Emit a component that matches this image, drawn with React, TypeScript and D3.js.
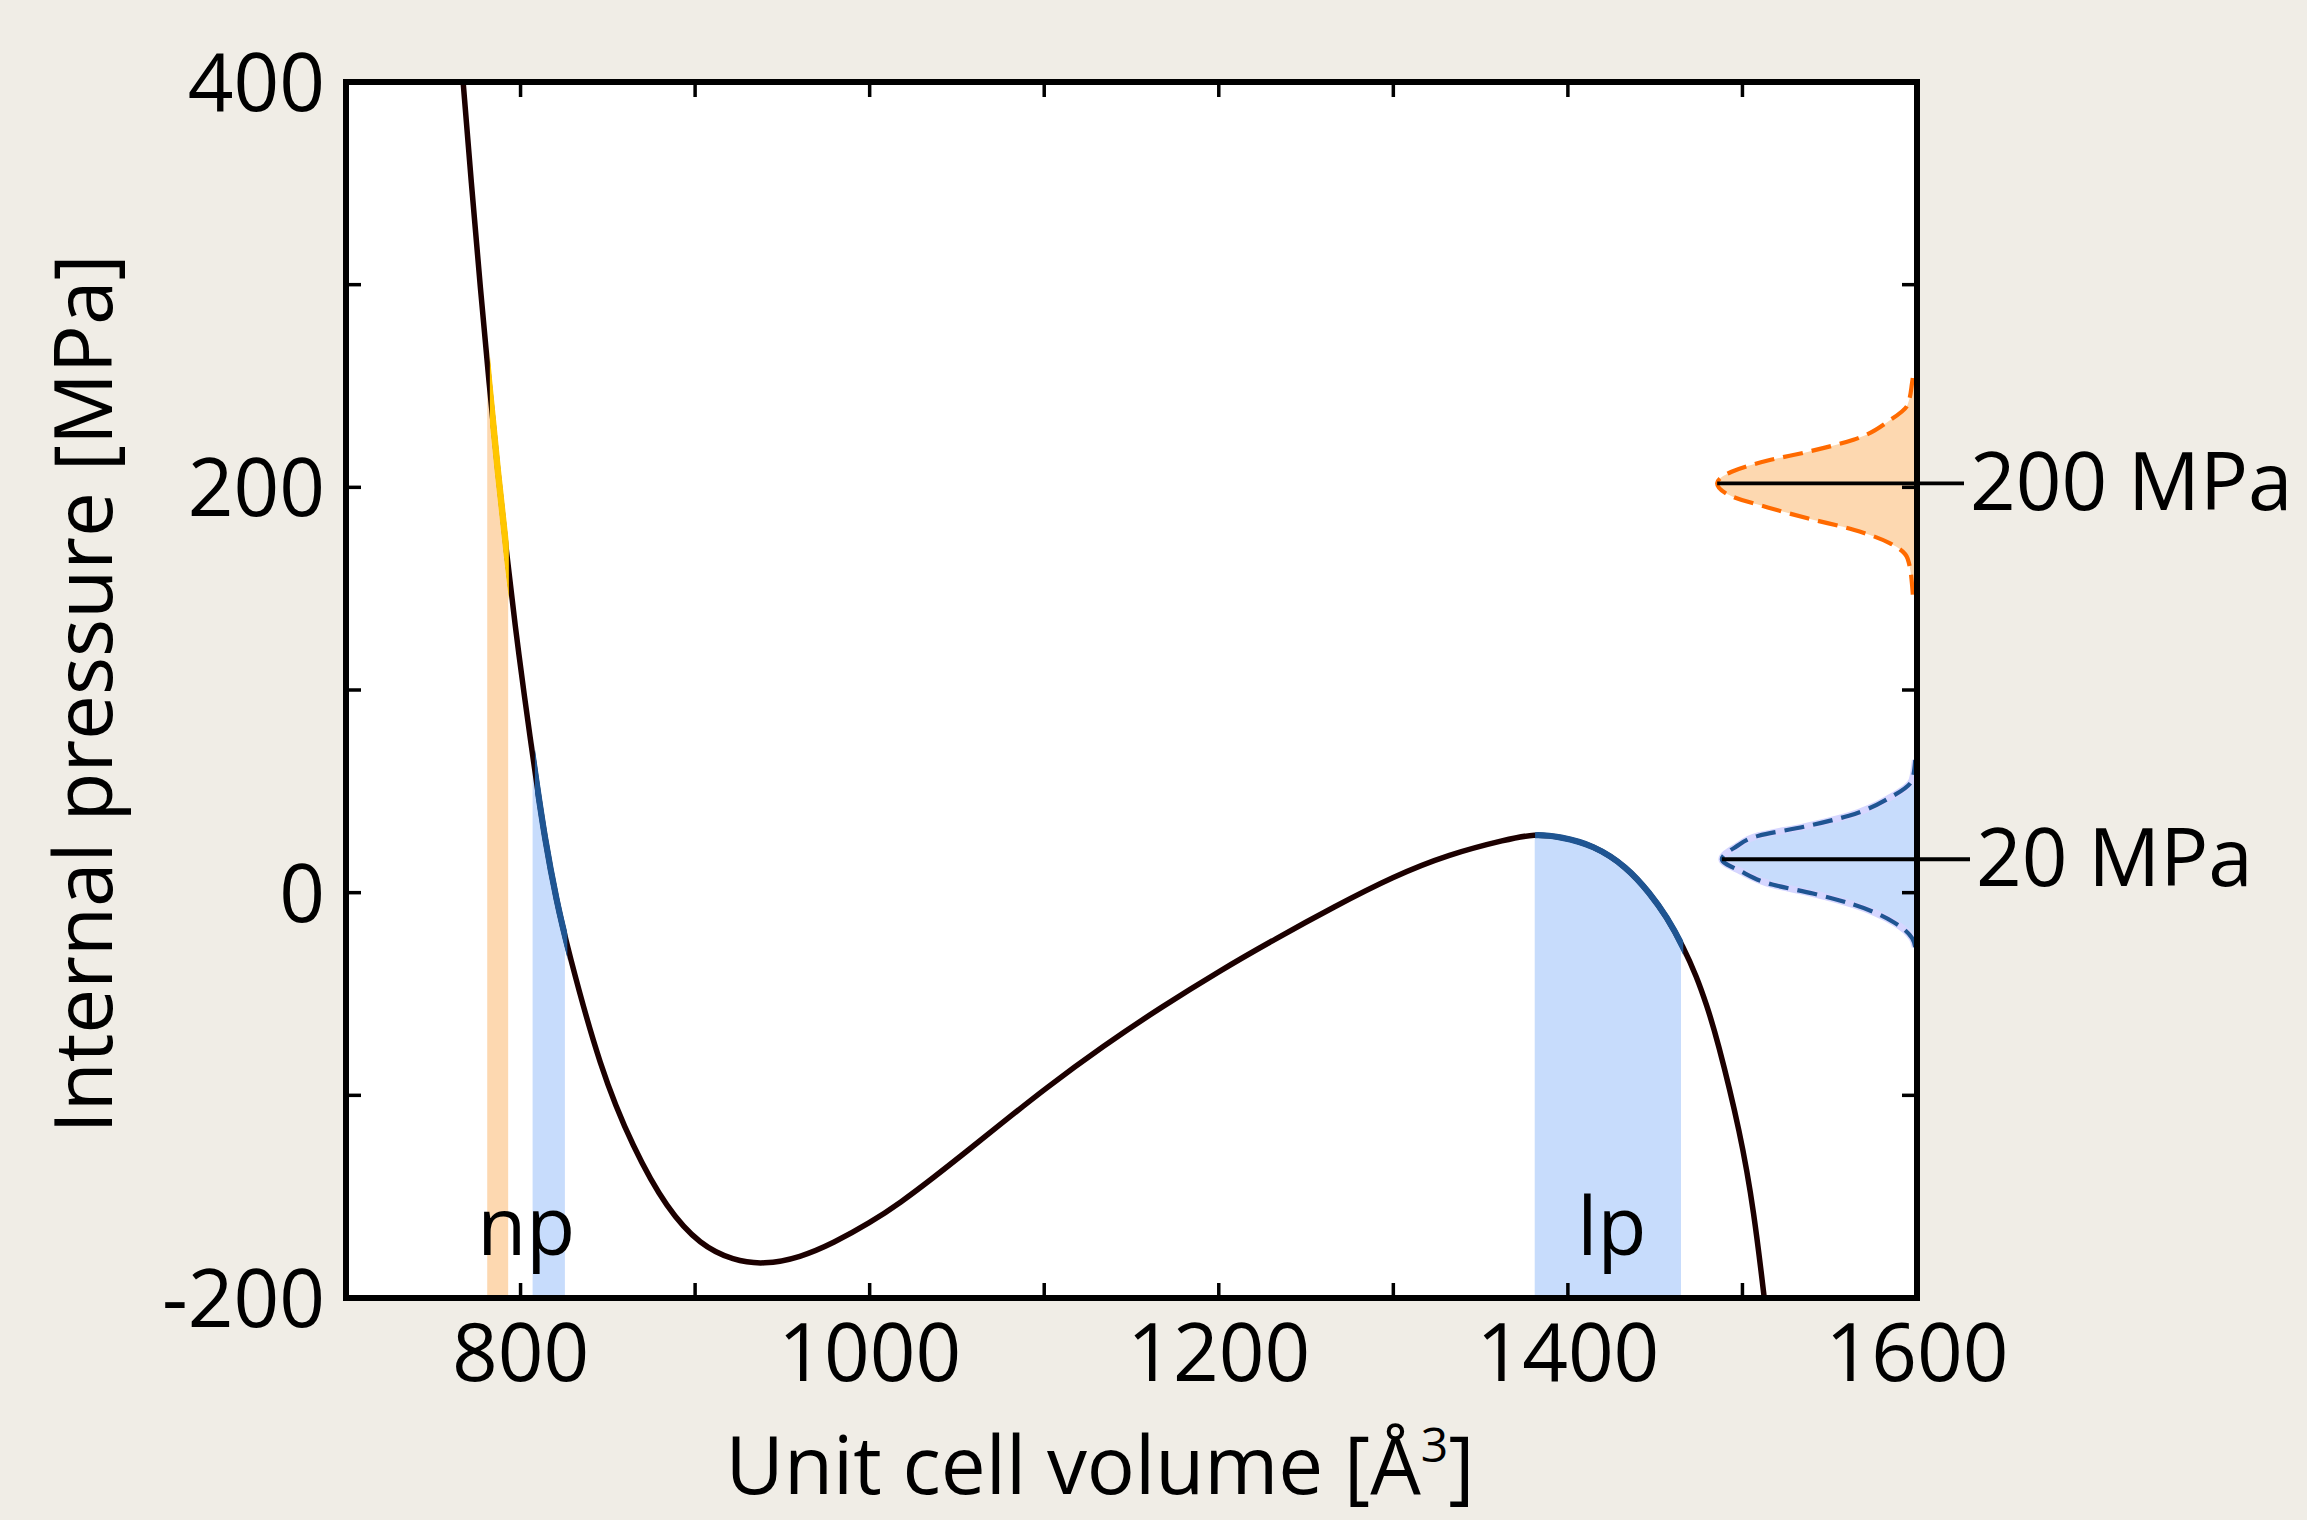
import React from "react";
import * as d3 from "d3";

// ---- data ----
const curveV = [767.1, 772, 777, 782, 787, 792, 797, 802, 808.2, 814, 820.6, 826.8, 845.6, 864.7, 883.8, 903, 922, 939.2, 960.3, 979.4, 1000, 1017.6, 1036.7, 1055.8, 1074.9, 1100, 1134, 1167, 1200, 1233, 1266, 1300, 1332, 1365, 1381, 1395.5, 1414.6, 1433.7, 1447, 1456.6, 1466.1, 1473.8, 1479.5, 1485.2, 1499, 1506.7, 1512.5];
const curveP = [400, 348, 298, 251, 207.5, 167.5, 131, 98, 60, 26, -4, -27, -87, -126.4, -156, -174, -181.5, -183.6, -180, -172.8, -163, -153, -140.5, -127.5, -114.3, -97, -75.5, -56.5, -38.8, -22.5, -7, 8, 19, 26.3, 29, 27.6, 23.5, 12.8, -0.3, -11.8, -26.7, -41.5, -55.5, -71, -119, -158, -200];

const bandOrange = [780.9, 792.9];
const bandNp = [806.9, 825.4];
const bandLp = [1381, 1464.8];
const segYellow = [782.4, 793.3];
const segNp = [808.2, 826.8];
const segLp = [1381.2, 1466.1];

const distOrangeP = [147, 151.7, 164.9, 172.5, 179.1, 184.6, 190.1, 195.6, 202, 207.7, 213.2, 217.6, 223.5, 233, 240.7, 251.7, 254];
const distOrangeV = [1597.6, 1597.2, 1594.6, 1584.3, 1563.6, 1537.8, 1514.5, 1493.8, 1485.5, 1493.8, 1514.5, 1537.8, 1563.6, 1584.3, 1594.6, 1597.2, 1597.6];
const distBlueP = [-26.8, -22.4, -14.7, -5.9, -0.4, 4, 10.6, 16.5, 22.7, 28.1, 32.5, 38, 46.8, 55.6, 65.5];
const distBlueV = [1599, 1597.2, 1586.9, 1563.6, 1540.4, 1517.1, 1499, 1488.2, 1496.4, 1509.3, 1535.2, 1561, 1584.3, 1597.2, 1599];

const peakP = [202, 16.5];
const peakLabels = ["200 MPa", "20 MPa"];
const peakTipV = [1485.5, 1488.2];

const xTicks = [800, 900, 1000, 1100, 1200, 1300, 1400, 1500];
const xLabels = [800, 1000, 1200, 1400, 1600];
const yTicks = [-100, 0, 100, 200, 300];
const yLabels = [-200, 0, 200, 400];

const phaseLabels = ["np", "lp"];
const phaseLabelV = [803.2, 1425.2];
const phaseLabelP = -179;

// ---- layout ----
const W = 2307, H = 1520;
const L = 346, R = 1917, T = 82, B = 1298;
const FONT = "'Open Sans', 'Noto Sans', sans-serif";
const FS = 80;

export default function App() {
  const x = d3.scaleLinear().domain([700, 1600]).range([L, R]);
  const y = d3.scaleLinear().domain([-200, 400]).range([B, T]);

  const pts = curveV.map((v, i) => ({ v, p: curveP[i] }));
  const crv = d3.curveBasis;
  const line = d3.line<any>().x(d => x(d.v)).y(d => y(d.p)).curve(crv);
  const area = d3.area<any>().x(d => x(d.v)).y0(y(-200)).y1(d => y(d.p)).curve(crv);
  const curvePath = line(pts) || "";
  const areaPath = area(pts) || "";

  const distLine = d3.line<any>().x(d => x(d.v)).y(d => y(d.p)).curve(d3.curveMonotoneY);
  const distArea = d3.area<any>().y(d => y(d.p)).x0(x(1600)).x1(d => x(d.v)).curve(d3.curveMonotoneY);
  const orange = distOrangeP.map((p, i) => ({ p, v: distOrangeV[i] }));
  const blue = distBlueP.map((p, i) => ({ p, v: distBlueV[i] }));

  const clipRect = (id: string, r: number[]) => (
    <clipPath id={id} key={id}>
      <rect x={x(r[0])} y={0} width={x(r[1]) - x(r[0])} height={H} />
    </clipPath>
  );

  return (
    <svg width={W} height={H} style={{ position: "absolute", left: 0, top: 0 }} fontFamily={FONT}>
      <defs>
        {clipRect("cOr", bandOrange)}
        {clipRect("cNp", bandNp)}
        {clipRect("cLp", bandLp)}
        {clipRect("sY", segYellow)}
        {clipRect("sNp", segNp)}
        {clipRect("sLp", segLp)}
        <clipPath id="plot"><rect x={L} y={T} width={R - L} height={B - T} /></clipPath>
      </defs>
      <rect x={0} y={0} width={W} height={H} fill="#F0EDE6" />
      <rect x={L} y={T} width={R - L} height={B - T} fill="#ffffff" />

      {/* bands under the curve */}
      <g clipPath="url(#plot)">
        <path d={areaPath} fill="#FDD8B0" clipPath="url(#cOr)" />
        <path d={areaPath} fill="#C7DCFC" clipPath="url(#cNp)" />
        <path d={areaPath} fill="#C7DCFC" clipPath="url(#cLp)" />
      </g>

      {/* distributions */}
      <path d={distArea(orange) || ""} fill="#FDD8B0" />
      <path d={distArea(blue) || ""} fill="#C7DCFC" />
      <path d={distLine(blue) || ""} fill="none" stroke="#D6D6FF" strokeWidth={7} />

      {/* curve */}
      <g clipPath="url(#plot)">
        <path d={curvePath} fill="none" stroke="#1C0000" strokeWidth={5.5} />
        <path d={curvePath} fill="none" stroke="#FFC600" strokeWidth={6.5} clipPath="url(#sY)" />
        <path d={curvePath} fill="none" stroke="#1F5592" strokeWidth={6.2} clipPath="url(#sNp)" />
        <path d={curvePath} fill="none" stroke="#1F5592" strokeWidth={6.2} clipPath="url(#sLp)" />
      </g>

      <path d={distLine(orange) || ""} fill="none" stroke="#FF6A00" strokeWidth={4.2} strokeDasharray="20 9" />
      <path d={distLine(blue) || ""} fill="none" stroke="#1F5592" strokeWidth={4.2} strokeDasharray="20 9" />

      {/* peak marker lines */}
      {peakP.map((p, i) => (
        <line key={"pk" + i} x1={x(peakTipV[i])} x2={i === 0 ? 1964 : 1970} y1={y(p)} y2={y(p)} stroke="#000" strokeWidth={3.8} />
      ))}

      {/* ticks */}
      {xTicks.map(t => (
        <g key={"xt" + t}>
          <line x1={x(t)} x2={x(t)} y1={B} y2={B - 15} stroke="#000" strokeWidth={3.5} />
          <line x1={x(t)} x2={x(t)} y1={T} y2={T + 15} stroke="#000" strokeWidth={3.5} />
        </g>
      ))}
      {yTicks.map(t => (
        <g key={"yt" + t}>
          <line x1={L} x2={L + 15} y1={y(t)} y2={y(t)} stroke="#000" strokeWidth={3.5} />
          <line x1={R} x2={R - 15} y1={y(t)} y2={y(t)} stroke="#000" strokeWidth={3.5} />
        </g>
      ))}
      <rect x={L} y={T} width={R - L} height={B - T} fill="none" stroke="#000" strokeWidth={6} />

      {/* tick labels */}
      {xLabels.map(t => (
        <text key={"xl" + t} x={x(t)} y={1381} fontSize={FS} textAnchor="middle" fill="#000">{t}</text>
      ))}
      {yLabels.map(t => (
        <text key={"yl" + t} x={325} y={y(t) + 29} fontSize={FS} textAnchor="end" fill="#000">{t}</text>
      ))}

      {/* phase labels */}
      {phaseLabels.map((s, i) => (
        <text key={s} x={x(phaseLabelV[i])} y={y(phaseLabelP)} fontSize={FS} textAnchor="middle" fill="#000">{s}</text>
      ))}

      {/* peak labels */}
      {peakLabels.map((s, i) => (
        <text key={s} x={i === 0 ? 1970 : 1976} y={y(peakP[i]) + 27} fontSize={FS} fill="#000">{s}</text>
      ))}

      {/* axis titles */}
      <text x={1100} y={1494} fontSize={FS} textAnchor="middle" fill="#000">
        Unit cell volume [Å<tspan fontSize={48} dy={-32}>3</tspan><tspan dy={32}>]</tspan>
      </text>
      <text transform={`translate(112, ${(T + B) / 2 + 4}) rotate(-90)`} fontSize={FS} textAnchor="middle" fill="#000">
        Internal pressure [MPa]
      </text>
    </svg>
  );
}
